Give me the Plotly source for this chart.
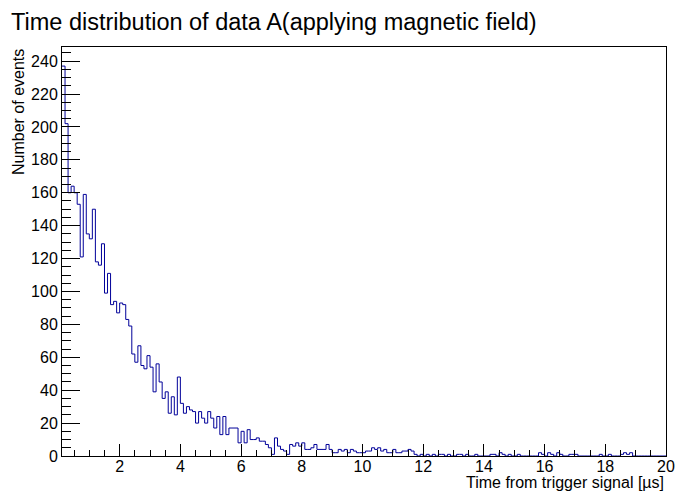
import plotly.graph_objects as go

# Histogram: 199 bins of 0.1 us from 0.1 to 20.0 us
x_min = 0.1
bin_width = 0.1
counts = [
    237, 202, 160, 164, 160, 153, 121, 159, 135, 132,
    150, 118, 116, 129, 99, 111, 92, 94, 87, 93,
    92, 83, 79, 62, 57, 67, 55, 53, 61, 54,
    39, 56, 45, 35, 39, 26, 36, 25, 48, 32,
    26, 30, 28, 27, 20, 27, 23, 20, 27, 23,
    17, 24, 13, 24, 13, 17, 17, 17, 8, 15,
    8, 16, 10, 10, 11, 9, 9, 7, 5, 1,
    11, 6, 4, 3, 1, 7, 6, 8, 6, 8,
    4, 4, 5, 7, 4, 4, 4, 7, 4, 2,
    2, 4, 3, 4, 2, 4, 3, 2, 2, 2,
    3, 3, 5, 4, 5, 3, 4, 2, 2, 4,
    2, 2, 3, 3, 4, 3, 1, 0, 1, 0,
    1, 0, 1, 0, 1, 1, 0, 1, 0, 0,
    1, 1, 0, 1, 0, 0, 1, 0, 0, 0,
    0, 1, 1, 0, 2, 1, 0, 1, 0, 0,
    1, 0, 0, 0, 0, 0, 0, 2, 1, 0,
    2, 1, 0, 2, 1, 0, 0, 1, 1, 1,
    0, 0, 0, 0, 0, 0, 0, 1, 0, 0,
    1, 0, 0, 0, 1, 2, 1, 2, 0, 0,
    0, 0, 0, 0, 0, 0, 0, 0, 0,
]
x_ticks = [2, 4, 6, 8, 10, 12, 14, 16, 18, 20]
y_ticks = list(range(0, 241, 20))

edges = [round(x_min + i * bin_width, 4) for i in range(len(counts) + 1)]
ys = counts + [counts[-1]]

W, H = 678, 493
L, R, T, B = 62, 12, 47, 37
pw, ph = W - L - R, H - T - B

def px(x):
    return (x - L) / pw

def py(y):
    return (H - B - y) / ph

font = "Liberation Sans, Arial, Helvetica, sans-serif"

fig = go.Figure()
fig.add_trace(go.Scatter(
    x=edges, y=ys, mode="lines", line=dict(shape="hv", color="#000099", width=1),
    hoverinfo="skip", showlegend=False,
))

fig.update_layout(
    width=W, height=H,
    margin=dict(l=L, r=R, t=T, b=B, pad=0, autoexpand=False),
    paper_bgcolor="white", plot_bgcolor="white",
    font=dict(family=font, size=16, color="black"),
    xaxis=dict(
        range=[x_min, 20], tickmode="array", tickvals=x_ticks,
        ticktext=[str(v) for v in x_ticks], automargin=False,
        ticks="inside", ticklen=12, tickwidth=1, tickcolor="black",
        ticklabelstandoff=-4,
        minor=dict(dtick=0.5, tick0=0, ticks="inside", ticklen=6, tickcolor="black", showgrid=False),
        showgrid=False, zeroline=False, showline=True, linecolor="black", linewidth=1,
        mirror=True, tickfont=dict(size=16),
    ),
    yaxis=dict(
        range=[0, 248.6], tickmode="array", tickvals=y_ticks,
        ticktext=[str(v) for v in y_ticks], automargin=False,
        ticks="inside", ticklen=18, tickwidth=1, tickcolor="black",
        minor=dict(dtick=5, tick0=0, ticks="inside", ticklen=9, tickcolor="black", showgrid=False),
        showgrid=False, zeroline=False, showline=True, linecolor="black", linewidth=1,
        mirror=True, tickfont=dict(size=16),
    ),
    annotations=[
        dict(text="Time distribution of data A(applying magnetic field)", xref="paper", yref="paper",
             x=px(9), y=py(22), xanchor="left", yanchor="middle", showarrow=False,
             font=dict(size=23.5, family=font)),
        dict(text="Number of events", xref="paper", yref="paper", textangle=-90,
             x=px(18), y=1.0, xanchor="center", yanchor="top", showarrow=False,
             font=dict(size=16, family=font)),
        dict(text="Time from trigger signal [µs]", xref="paper", yref="paper",
             x=1.0, y=py(482), xanchor="right", yanchor="middle", showarrow=False,
             font=dict(size=16, family=font)),
    ],
)

fig.write_html("out.html")
